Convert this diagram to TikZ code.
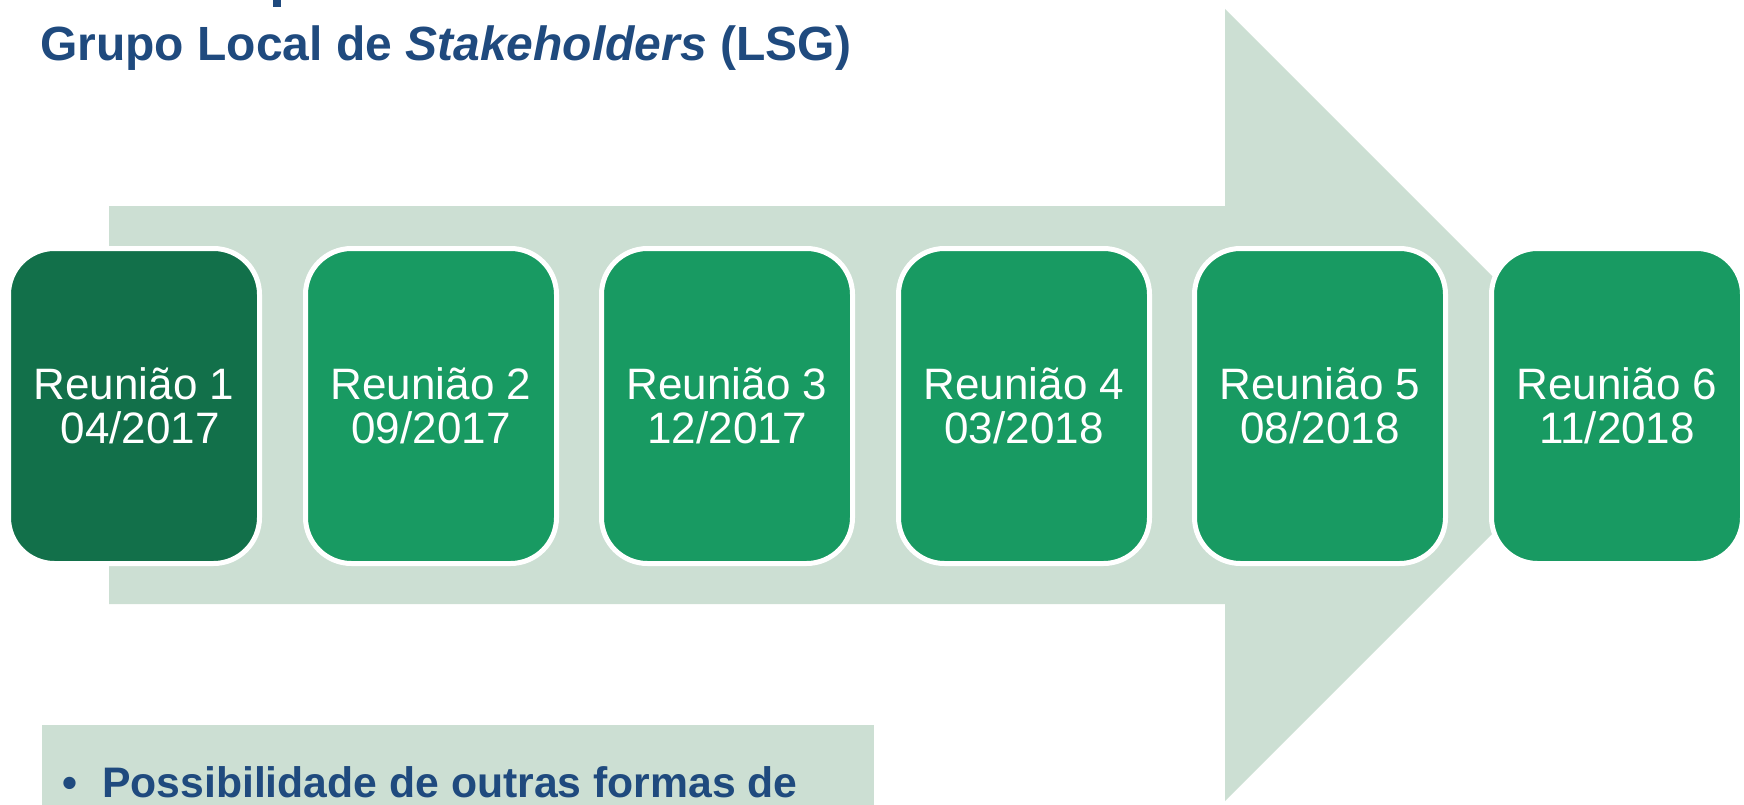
\documentclass[tikz,border=0pt]{standalone}
\usepackage{fontspec}
\setmainfont{Liberation Sans}
\definecolor{arrowbg}{HTML}{CCDFD3}
\definecolor{boxdark}{HTML}{12704A}
\definecolor{boxgreen}{HTML}{189A62}
\definecolor{titleblue}{HTML}{1F4A7E}
\tikzset{
  meetbox/.style={rectangle, rounded corners=46pt, minimum width=251pt, minimum height=315pt,
    draw=white, line width=5pt, fill=boxgreen, text=white, align=center,
    font=\fontsize{44}{44.5}\selectfont, inner sep=0pt},
  titletext/.style={text=titleblue, font=\bfseries\fontsize{48}{50}\selectfont, inner sep=0pt},
  bullettext/.style={text=titleblue, font=\bfseries\fontsize{42.7}{46}\selectfont, inner sep=0pt}
}
\begin{document}
\begin{tikzpicture}[x=1pt,y=-1pt]
\useasboundingbox (0,0) rectangle (1744,805);
% big arrow
\fill[arrowbg] (109,206) -- (1225,206) -- (1225,9) -- (1621,405) -- (1225,801) -- (1225,604) -- (109,604) -- cycle;
% meeting boxes
\node[meetbox, fill=boxdark] (b1) at (134,406) {Reunião 1\\\hspace*{0.28em}04/2017};
\node[meetbox] (b2) at (431,406) {Reunião 2\\09/2017};
\node[meetbox] (b3) at (727,406) {Reunião 3\\12/2017};
\node[meetbox] (b4) at (1024,406) {Reunião 4\\03/2018};
\node[meetbox] (b5) at (1320,406) {Reunião 5\\08/2018};
\node[meetbox] (b6) at (1617,406) {Reunião 6\\11/2018};
% title (cut-off line above)
\fill[titleblue] (273,0) rectangle (281,7);
\node[titletext, anchor=base west] (title) at (40,61) {Grupo Local de \textit{Stakeholders} (LSG)};
% bottom text box
\fill[arrowbg] (42,725) rectangle (874,805);
\node[bullettext, anchor=base west] (bul) at (62,797) {•};
\node[bullettext, anchor=base west] (btext) at (102,797) {Possibilidade de outras formas de};
\end{tikzpicture}
\end{document}
